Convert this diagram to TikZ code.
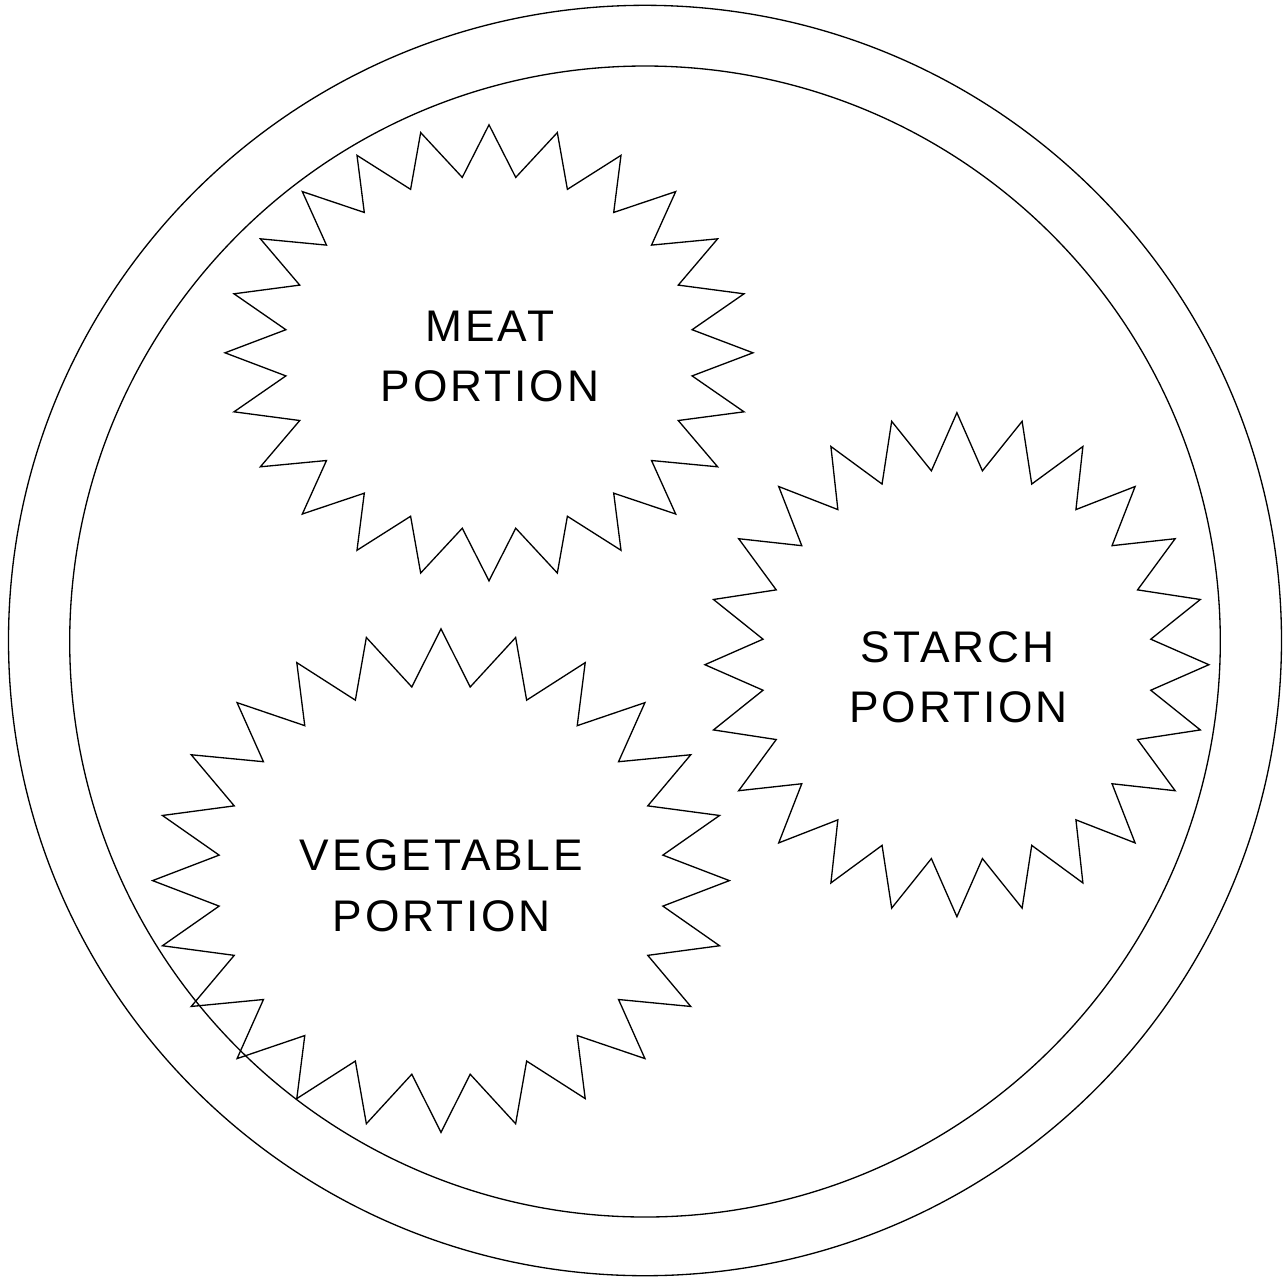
\documentclass[tikz,border=0pt]{standalone}
\usepackage{fontspec}
\setmainfont{Liberation Sans}
\begin{document}
\begin{tikzpicture}[x=0.02cm,y=-0.02cm,
  plate/.style={draw=black,line width=0.75pt},
  burstline/.style={draw=black,line width=0.75pt,line join=miter},
  lbl/.style={anchor=base,inner sep=0pt,font=\fontsize{25.2}{30}\selectfont\addfontfeature{LetterSpace=6.5}}]
\useasboundingbox (0,0) rectangle (1286,1276);
% plate
\draw[plate] (645,640.5) circle [x radius=636.5, y radius=635.2];
\draw[plate] (645,641.5) circle [x radius=575.3, y radius=575.5];
% bursts: center, outer rx, outer ry
\newcommand\myburst[4]{%
  \draw[burstline,shift={(#1,#2)}] (90:#3 and #4)
    \foreach \a in {0,15,...,345} {
      -- ({97.5+\a}:{0.776*#3} and {0.776*#4}) -- ({105+\a}:#3 and #4)
    } -- cycle;}
\myburst{489}{352.8}{264}{228}
\myburst{956.9}{664.7}{252}{252}
\myburst{441}{880.6}{288.4}{251.7}
% labels
\node[lbl] (meatA) at (490,341) {MEAT};
\node[lbl] (meatB) at (490,401) {PORTION};
\node[lbl] (starchA) at (957.5,662.7) {STARCH};
\node[lbl] (starchB) at (958.5,722.7) {PORTION};
\node[lbl] (vegA) at (441.4,870.7) {VEGETABLE};
\node[lbl] (vegB) at (441.8,931.3) {PORTION};
\end{tikzpicture}
\end{document}
